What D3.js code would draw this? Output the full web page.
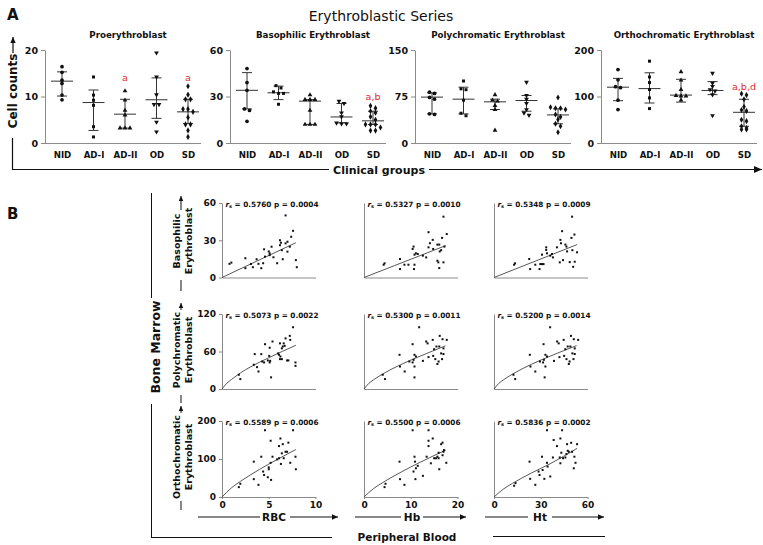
<!DOCTYPE html>
<html><head><meta charset="utf-8">
<script src="https://cdn.jsdelivr.net/npm/d3@7"></script>
<style>
body{margin:0;background:#fff}
svg{display:block}
text{font-family:"DejaVu Sans",Verdana,sans-serif;fill:#111}
</style>
</head><body><svg id="c" width="763" height="545"></svg>
<script>
// ---------------- DATA : panel A ----------------
const groups = ["NID","AD-I","AD-II","OD","SD"];
const panelTitles = ["Proerythroblast","Basophilic Erythroblast","Polychromatic Erythroblast","Orthochromatic Erythroblast"];
const panelMax = [20,60,150,200];
const panelTicks = [[0,10,20],[0,30,60],[0,75,150],[0,100,200]];

const proPoints = [
  [16.4,15.2,13.5,12.8,10.3,9.3],
  [14.2,10.3,9.2,8.1,3.5,1.3],
  [11.2,9.2,7.0,6.0,3.2,3.2,3.2],
  [19.4,14.2,10.4,8.3,8.3,4.5,2.4],
  [12.2,10.4,9.4,9.4,7.3,7.3,6.7,5.5,4.0,4.0,2.7,1.3]
];
const basPoints = [
  [48,39,34,22,21,14],
  [37,35.5,33,32,32,25],
  [31,28,28,28,21,12,12,12],
  [27,25.5,19.5,17,13,12.5,12.5],
  [24,22.5,20.5,19.5,17,15,12,12,12,10,8,8]
];
const polyPoints = [
  [82,80,73.4,70.7,47,46],
  [100,87.4,86,69,48,44],
  [77.7,69,67.5,60.4,54,20.5],
  [98,76.6,70.7,64,54,48.6,44.8],
  [73.4,57.7,56,56,54,46,42,38,31,27,17.3]
];
const orthoPoints = [
  [158,136,121,119,92,72],
  [176,142,130,115,97,74],
  [153,135,115,102,101,101,92],
  [150,129,122,115,112,104,59],
  [106,103,94,78,71,69,50,47,36,32,29,29]
];
const panelPoints = [proPoints, basPoints, polyPoints, orthoPoints];

const proMean = [13.3,8.7,6.2,9.3,6.7],    proHi = [15.3,11.4,9.4,14.0,9.4],  proLo = [10.1,2.7,3.2,5.3,4.2];
const basMean = [34,32.4,27,16.8,14.3],    basHi = [45.4,36.7,28,25.5,20.5],  basLo = [22,28,12,13,11.9];
const polyMean = [74,70.7,66.4,68.5,45.3], polyHi = [81,90,70.7,76.6,55],     polyLo = [47,47,54,51.3,31];
const orthoMean = [120,117,103,113,66],    orthoHi = [139,151,137,132,94],    orthoLo = [91,86,88,104,36];
const panelMean = [proMean, basMean, polyMean, orthoMean];
const panelHi = [proHi, basHi, polyHi, orthoHi];
const panelLo = [proLo, basLo, polyLo, orthoLo];

const sigPanel = [0,0,1,3];
const sigGroup = ["AD-II","SD","SD","SD"];
const sigText  = ["a","a","a,b","a,b,d"];
const sigValue = [14,14,30,122];

// ---------------- DATA : panel B ----------------
const rowNames = [["Basophilic","Erythroblast"],["Polychromatic","Erythroblast"],["Orthochromatic","Erythroblast"]];
const colNames = ["RBC","Hb","Ht"];
const rowMax = [60,120,200];
const rowTicks = [[0,30,60],[0,60,120],[0,100,200]];
const colMax = [10,20,60];
const colTicks = [[0,5,10],[0,10,20],[0,30,60]];
const rsValues = [["0.5760","0.5327","0.5348"],["0.5073","0.5300","0.5200"],["0.5589","0.5500","0.5836"]];
const pValues  = [["0.0004","0.0010","0.0009"],["0.0022","0.0011","0.0014"],["0.0006","0.0006","0.0002"]];

const basRBC = [[0.8,11],[1.0,12],[2.5,15.5],[2.5,7.5],[3.1,10.9],[3.3,8.3],[3.7,14.7],[4.2,7.5],[4.4,11.5],[4.6,16.8],[4.5,22.7],[5.1,19.5],[5.3,24.8],[5.1,18],[5.5,16.3],[5.9,11.5],[6.2,26],[6.2,30],[6.3,28],[6.4,22],[6.5,14.7],[6.8,50],[6.8,27.5],[7.0,20.8],[7.0,28.8],[7.4,32.8],[7.6,37.6],[7.9,14],[8.0,8.3],[7.25,24.8],[5.0,21],[3.9,11]];
const basHb = [[4.2,10.3],[4.4,11.4],[7.7,14.9],[7.7,6.8],[8.65,10.3],[9.5,10.3],[10.4,23],[10.6,24.9],[10.8,18.4],[10.8,10.3],[10.7,6.8],[11.1,19.5],[11.5,18.9],[12.6,17.6],[13.3,16.2],[13.8,36.5],[13.8,24.3],[14.1,27.6],[14.7,30.3],[14.8,23],[15.7,26.5],[16.1,26.5],[16.2,21],[16.5,22],[15.7,13.5],[15.9,12.2],[16.1,7.6],[16.7,31.9],[17.0,49],[17.0,12.2],[17.2,24.9],[17.7,35]];
const basHt = [[12.9,10.3],[13.5,11.4],[22.6,14.9],[23.2,6.8],[26.5,10.3],[29.2,6.8],[29.7,10.8],[30.8,10.8],[31.8,10.8],[30.8,18.4],[33.5,24.3],[33.5,22.2],[34,19.5],[36.1,17.6],[37.8,16.2],[37.2,18.9],[40.4,24.3],[42.2,12.2],[42.6,30.3],[43,27.6],[43.7,37.3],[44.3,14],[45.8,26.5],[46.5,24.9],[46.9,21],[48.6,12.4],[49.7,31.9],[50.1,49],[50.3,22],[50.8,8.6],[51.6,34.6],[51.8,12.7],[53.3,20.3]];
const polyRBC = [[1.8,22.8],[1.96,15.9],[3.4,38.8],[3.5,55.8],[3.75,35],[3.9,28],[4.2,55.8],[4.3,44],[4.5,42.5],[4.6,71.7],[4.9,45.7],[5.1,42.5],[5.15,45],[5.25,18.6],[5.1,66],[5.05,53],[5.4,76],[6.0,57],[6.1,54.7],[6.2,73],[6.25,52],[6.2,47.8],[6.4,47.8],[6.4,65],[6.5,68],[6.6,73],[6.7,69],[6.8,81],[6.96,45.7],[7.1,45.7],[7.25,85],[7.3,78.6],[7.6,98.8],[7.86,42.5],[7.86,37]];
const polyHb = [[4.0,22.8],[4.5,15.9],[7.6,54.7],[7.7,36],[8.7,28],[9.7,44],[10.4,42.5],[10.6,46.7],[10.8,36],[10.8,18.6],[10.4,71.7],[10.8,54.7],[11.1,52],[12.6,45],[11.8,98.8],[13.3,76],[13.6,73],[13.8,51],[14.7,78.6],[14.8,53],[15.0,63.7],[15.25,47.8],[15.5,68],[15.7,40],[15.96,44],[16.1,68],[16.2,85],[16.5,57],[16.7,47.8],[16.8,79.7],[17.0,65],[17.0,56],[17.7,78.6]];
const polyHt = [[12.5,22.8],[13.6,15.9],[23,54.7],[23.4,36],[26.5,28],[29.5,44],[31.5,42.5],[32,46.7],[33,36],[32.5,18.6],[31.8,71.7],[33,54.7],[34,52],[38.5,45],[36,98.8],[40.5,76],[41.5,73],[42,51],[44.7,78.6],[45,53],[45.8,63.7],[46.5,47.8],[47.3,68],[48,40],[48.5,44],[49,68],[49.4,85],[50.3,57],[51,47.8],[51.2,79.7],[51.8,65],[51.8,56],[54,78.6]];
const orthoRBC = [[1.8,26],[1.96,34.8],[3.4,93],[3.4,47],[3.9,32],[4.2,106],[4.4,67],[4.5,58],[4.6,175.7],[4.9,52],[5.0,78],[5.0,73],[5.2,148],[5.25,45],[5.2,90],[5.4,106],[5.9,99],[6.1,102],[6.1,134],[6.25,154],[6.3,87],[6.4,115],[6.5,139],[6.6,102],[6.8,119],[6.96,119],[7.1,143],[7.3,90],[7.6,175.7],[7.86,106],[7.9,73]];
const orthoHb = [[4.4,26],[4.6,34.8],[7.6,93],[7.7,47],[8.65,32],[10.4,175.7],[10.8,106],[10.9,93],[10.6,67],[11.1,75.6],[11.0,47],[11.5,82],[12.6,55.6],[13.4,106],[13.8,175.7],[13.8,148],[13.8,134],[14.3,88.7],[14.7,154],[15.0,102],[15.4,102],[15.7,106],[15.96,102],[15.96,116.5],[16.1,73],[16.5,139],[16.8,143],[16.8,110],[17.0,119],[17.1,123.5],[17.6,90]];
const orthoHt = [[12.9,29.6],[13.8,36.5],[22.8,93],[23.2,47.8],[26.5,32],[28.6,67],[29.2,58],[30.8,106],[31.2,71],[32.3,47.8],[34,175.7],[34,90],[34.4,80],[36.1,54],[37.8,104],[38.3,150],[40.4,134],[42.2,104],[42.6,88.7],[42.6,154],[43.2,116.5],[43.7,175.7],[44.3,102],[45.8,104],[46.5,113],[46.9,139],[47.3,121.7],[48,119],[49.5,142.6],[50.1,119],[51.2,75.6],[51.6,106],[52.3,90],[53.3,139]];
const scatterData = [[basRBC,basHb,basHt],[polyRBC,polyHb,polyHt],[orthoRBC,orthoHb,orthoHt]];

const fitBasRBC = [[0,0],[7.9,28]];
const fitBasHb  = [[0,0],[17.5,25.7]];
const fitBasHt  = [[0,0],[53.3,26.5]];
const fitPolyRBC = [[0,0],[0.5,9],[1,15],[2,26],[3,35],[5,50],[7.9,70]];
const fitPolyHb  = [[0,0],[1,8.8],[2,14.5],[4,24],[8,39.5],[12,52.5],[17.4,69]];
const fitPolyHt  = [[0,0],[3,8.8],[6,14.5],[12,24],[24,39.5],[36,52.5],[53,69.5]];
const fitOrthoRBC = [[0,0],[1,23.9],[2,41.6],[4,72.4],[6,100],[7.9,125]];
const fitOrthoHb  = [[0,0],[2,21.8],[4,37.9],[8,66],[12,91.3],[17.5,123.5]];
const fitOrthoHt  = [[0,0],[6,20.8],[12,36.3],[24,63.1],[36,87.4],[53.3,128]];
const fitData = [[fitBasRBC,fitBasHb,fitBasHt],[fitPolyRBC,fitPolyHb,fitPolyHt],[fitOrthoRBC,fitOrthoHb,fitOrthoHt]];

// ---------------- DRAWING ----------------
const svg = d3.select("#c");
const AX = "#8a8a8a";

function arrow(g, x1, y1, x2, y2, head, w) {
  g.append("line").attr("x1",x1).attr("y1",y1).attr("x2",x2).attr("y2",y2)
    .attr("stroke","#111").attr("stroke-width",w||1);
  const a = Math.atan2(y2-y1, x2-x1), h = head||6, s = h*0.45;
  const p = [[x2,y2],[x2-h*Math.cos(a)+s*Math.sin(a), y2-h*Math.sin(a)-s*Math.cos(a)],
             [x2-h*Math.cos(a)-s*Math.sin(a), y2-h*Math.sin(a)+s*Math.cos(a)]];
  g.append("path").attr("d","M"+p.map(d=>d.join(",")).join("L")+"Z").attr("fill","#111");
}
function line(g,x1,y1,x2,y2,w,c){
  g.append("line").attr("x1",x1).attr("y1",y1).attr("x2",x2).attr("y2",y2)
    .attr("stroke",c||"#111").attr("stroke-width",w||1);
}
function rtext(g,x,y,t,size,weight){
  return g.append("text").attr("transform",`translate(${x},${y}) rotate(-90)`)
    .attr("text-anchor","middle").attr("font-size",size).attr("font-weight",weight||"bold").text(t);
}

// ---- Panel A ----
const gA = svg.append("g");
gA.append("text").attr("x",7).attr("y",20).attr("font-size",15).attr("font-weight","bold").text("A");
gA.append("text").attr("x",381).attr("y",21).attr("text-anchor","middle").attr("font-size",14).text("Erythroblastic Series");

arrow(gA, 13, 53, 13, 37, 6, 1.2);
rtext(gA, 17, 91, "Cell counts", 12);
line(gA, 12.5, 138, 12.5, 169.5, 1.2);
line(gA, 12, 169.5, 329, 169.5, 1.2);
gA.append("text").attr("x",379).attr("y",173.5).attr("text-anchor","middle")
  .attr("font-family","Lato, 'Liberation Sans', sans-serif").attr("font-size",11).attr("font-weight","bold").text("Clinical groups");
arrow(gA, 429, 169.5, 762, 169.5, 8, 1.2);

const symType = [d3.symbolCircle, d3.symbolSquare, d3.symbolTriangle, d3.symbolTriangle, d3.symbolDiamond];
const symRot = [0,0,0,180,0];
const symSize = [11,9,10,10,11];
const panelX0 = [45,230,415,601];
const panelW = 156;
const yTop = 50, yBot = 143;

panelTitles.forEach((title, pi) => {
  const x0 = panelX0[pi];
  const g = gA.append("g");
  const y = d3.scaleLinear().domain([0,panelMax[pi]]).range([yBot,yTop]);
  const x = d3.scalePoint().domain(groups).range([x0+17, x0+143]);

  g.append("text").attr("x", x0 + 83).attr("y", 38).attr("text-anchor","middle")
    .attr("font-size",8.7).attr("font-weight","bold").text(title);

  const ya = g.append("g").attr("transform",`translate(${x0},0)`)
    .call(d3.axisLeft(y).tickValues(panelTicks[pi]).tickSize(4).tickSizeOuter(0).tickPadding(3));
  ya.select(".domain").attr("stroke",AX);
  ya.selectAll(".tick line").attr("stroke",AX);
  ya.selectAll(".tick text").attr("font-size",9.5).attr("font-weight","bold").attr("fill","#111")
    .attr("font-family","'DejaVu Sans',Verdana,sans-serif");

  line(g, x0, yBot+0.5, x0+panelW, yBot+0.5, 1, AX);
  const xa = g.append("g").attr("transform",`translate(0,${yBot+6})`)
    .call(d3.axisBottom(x).tickSize(0).tickPadding(3));
  xa.select(".domain").remove();
  xa.selectAll(".tick text").attr("font-size",8.6).attr("font-weight","bold").attr("fill","#111")
    .attr("font-family","'DejaVu Sans',Verdana,sans-serif");

  groups.forEach((gr, gi) => {
    const cx = x(gr);
    const m = panelMean[pi][gi], hi = panelHi[pi][gi], lo = panelLo[pi][gi];
    line(g, cx, y(hi), cx, y(lo), 1, "#333");
    line(g, cx-5, y(hi), cx+5, y(hi), 1, "#333");
    line(g, cx-5, y(lo), cx+5, y(lo), 1, "#333");
    line(g, cx-11, y(m), cx+11, y(m), 1, "#333");

    const vals = panelPoints[pi][gi].slice().sort((a,b)=>b-a);
    const clusters = [];
    vals.forEach(v => {
      const last = clusters[clusters.length-1];
      if (last && Math.abs(y(last[0]) - y(v)) < 3.2) last.push(v); else clusters.push([v]);
    });
    clusters.forEach(cl => {
      cl.forEach((v, k) => {
        const px = cx + (k - (cl.length-1)/2) * 5;
        g.append("path")
          .attr("d", d3.symbol().type(symType[gi]).size(symSize[gi])())
          .attr("transform", `translate(${px},${y(v)}) rotate(${symRot[gi]})`)
          .attr("fill","#111");
      });
    });
  });

  sigPanel.forEach((sp, si) => {
    if (sp !== pi) return;
    g.append("text").attr("x", x(sigGroup[si])).attr("y", y(sigValue[si]))
      .attr("dy","0.35em").attr("text-anchor","middle").attr("font-size",9.5)
      .attr("font-family","'Liberation Sans',Arial,sans-serif")
      .style("fill","#e0282e").text(sigText[si]);
  });
});

// ---- Panel B ----
const gB = svg.append("g");
gB.append("text").attr("x",7).attr("y",219).attr("font-size",15).attr("font-weight","bold").text("B");

const colX0 = [222,364,494];
const colW = 93.5;
const rowTop = [203,314,421];
const rowBot = [277.5,389,497];

const rowArrowTip = [196,303,406];
const rowArrowBase = [210,310,413];
const rowLabelY = [241,350,457];
const rowStubTop = [280,395,501];
const rowStubBot = [291,403,510];
rowNames.forEach((nm, ri) => {
  rtext(gB, 180, rowLabelY[ri], nm[0], 9.5);
  rtext(gB, 192, rowLabelY[ri], nm[1], 9.5);
  arrow(gB, 181, rowArrowBase[ri], 181, rowArrowTip[ri], 5, 1);
  line(gB, 181, rowStubTop[ri], 181, rowStubBot[ri], 1);
});
rtext(gB, 160, 347, "Bone Marrow", 12.5);
line(gB, 151.5, 193, 151.5, 298, 1);
line(gB, 151.5, 404, 151.5, 537.5, 1);
line(gB, 151, 537.5, 332, 537.5, 1);
line(gB, 493, 536.5, 605, 536.5, 1);
gB.append("text").attr("x",407).attr("y",541).attr("text-anchor","middle")
  .attr("font-size",10.5).attr("font-weight","bold").text("Peripheral Blood");

const xlabX = [274,412,540];
const xlabL1 = [198,355,485];
const xlabL2 = [260,401,528];
const xlabR1 = [290,423,552];
const xlabR2 = [338,466,604];
colNames.forEach((nm, ci) => {
  line(gB, xlabL1[ci], 517, xlabL2[ci], 517, 1);
  gB.append("text").attr("x",xlabX[ci]).attr("y",521).attr("text-anchor","middle")
    .attr("font-size",10.5).attr("font-weight","bold").text(nm);
  arrow(gB, xlabR1[ci], 517, xlabR2[ci], 517, 6, 1);
});

const lineGen = d3.line().curve(d3.curveMonotoneX);
rowNames.forEach((rn, ri) => {
  colNames.forEach((cn, ci) => {
    const g = gB.append("g");
    const x = d3.scaleLinear().domain([0,colMax[ci]]).range([colX0[ci], colX0[ci]+colW]);
    const y = d3.scaleLinear().domain([0,rowMax[ri]]).range([rowBot[ri], rowTop[ri]]);

    const ya = g.append("g").attr("transform",`translate(${colX0[ci]},0)`)
      .call(d3.axisLeft(y).tickValues(ci===0 ? rowTicks[ri] : []).tickSize(3).tickSizeOuter(0).tickPadding(3));
    ya.select(".domain").attr("stroke",AX);
    ya.selectAll(".tick line").attr("stroke",AX);
    ya.selectAll(".tick text").attr("font-size",9).attr("font-weight","bold").attr("fill","#111")
      .attr("font-family","'DejaVu Sans',Verdana,sans-serif");

    const xa = g.append("g").attr("transform",`translate(0,${rowBot[ri]})`)
      .call(d3.axisBottom(x).tickValues(ri===2 ? colTicks[ci] : []).tickSize(2).tickSizeOuter(0).tickPadding(3));
    xa.select(".domain").attr("stroke",AX);
    xa.selectAll(".tick line").attr("stroke",AX);
    xa.selectAll(".tick text").attr("font-size",9).attr("font-weight","bold").attr("fill","#111")
      .attr("font-family","'DejaVu Sans',Verdana,sans-serif");

    g.append("path").attr("d", lineGen(fitData[ri][ci].map(d=>[x(d[0]),y(d[1])])))
      .attr("fill","none").attr("stroke","#444").attr("stroke-width",0.9);

    g.selectAll("rect.pt").data(scatterData[ri][ci]).enter().append("rect")
      .attr("x", d=>x(d[0])-1).attr("y", d=>y(d[1])-1).attr("width",2).attr("height",2).attr("fill","#111");

    const t = g.append("text").attr("x", colX0[ci]+50).attr("y", rowTop[ri]+3.5)
      .attr("text-anchor","middle").attr("font-size",7.3).attr("font-weight","bold");
    t.append("tspan").attr("font-style","italic").text("r");
    t.append("tspan").attr("font-size",5).attr("dy",1.5).text("s");
    t.append("tspan").attr("dy",-1.5).text(" = " + rsValues[ri][ci] + " p = " + pValues[ri][ci]);
  });
});
</script>
</body></html>
